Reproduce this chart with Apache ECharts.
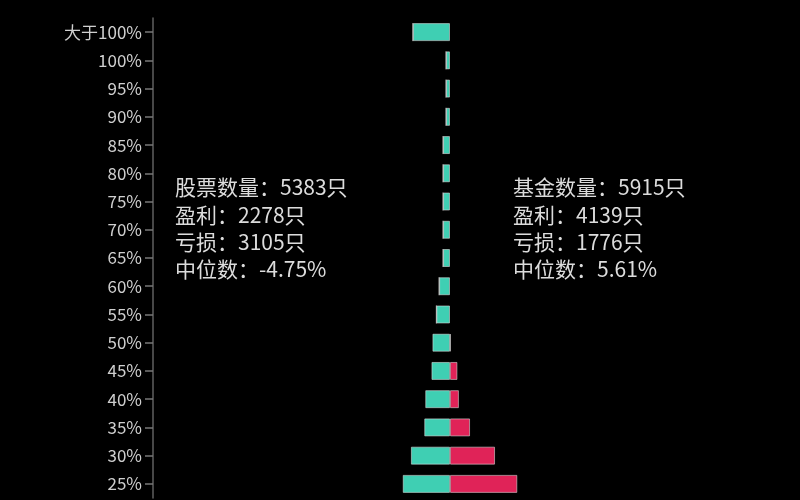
<!DOCTYPE html>
<html>
<head>
<meta charset="utf-8">
<script src="https://cdn.jsdelivr.net/npm/echarts@6/dist/echarts.min.js"></script>
<style>
html,body{margin:0;padding:0;background:#000;}
#c{width:800px;height:500px;}
</style>
</head>
<body>
<div id="c"></div>
<script>
const categories = ['大于100%','100%','95%','90%','85%','80%','75%','70%','65%','60%','55%','50%','45%','40%','35%','30%','25%'];
// 股票 (left, teal) counts per bucket
const stockCounts = [150,16,16,16,28,28,28,28,28,44,55,71,75,100,104,158,191];
// 基金 (right, pink) counts per bucket
const fundCounts = [0,0,0,0,0,0,0,0,0,0,0,3,30,36,81,182,272];
const stockText = ['股票数量：5383只','盈利：2278只','亏损：3105只','中位数：-4.75%'];
const fundText = ['基金数量：5915只','盈利：4139只','亏损：1776只','中位数：5.61%'];

const chart = echarts.init(document.getElementById('c'), null, {renderer:'canvas'});
const font = "'Noto Sans CJK SC', 'Noto Sans', sans-serif";
const barBorder = {borderColor:'rgba(225,225,225,0.55)', borderWidth:1};

function textBlock(lines, x){
  return lines.map((t,i)=>({
    type:'text', left:x, top:177 + i*27.3,
    style:{text:t, fill:'#dcdcdc', font:'21px ' + font}
  }));
}

chart.setOption({
  backgroundColor:'#000',
  animation:false,
  grid:{left:153, right:53, top:18, bottom:2},
  xAxis:{type:'value', min:-1200, max:1200, show:false},
  yAxis:{
    type:'category', data:categories, inverse:true,
    axisLine:{onZero:false, lineStyle:{color:'#5f5f5f', width:1.5}},
    axisTick:{show:true, length:8, alignWithLabel:true, lineStyle:{color:'#777', width:1.5}},
    axisLabel:{color:'#cfcfcf', fontSize:17, margin:11, fontFamily:font}
  },
  series:[
    {type:'bar', stack:'s', barWidth:18, data:stockCounts.map(v=>-v),
     itemStyle:Object.assign({color:'#3fcfb3'}, barBorder)},
    {type:'bar', stack:'s', barWidth:18, data:fundCounts,
     itemStyle:Object.assign({color:'#e02358'}, barBorder)}
  ],
  graphic: textBlock(stockText, 175).concat(textBlock(fundText, 513))
});
</script>
</body>
</html>
